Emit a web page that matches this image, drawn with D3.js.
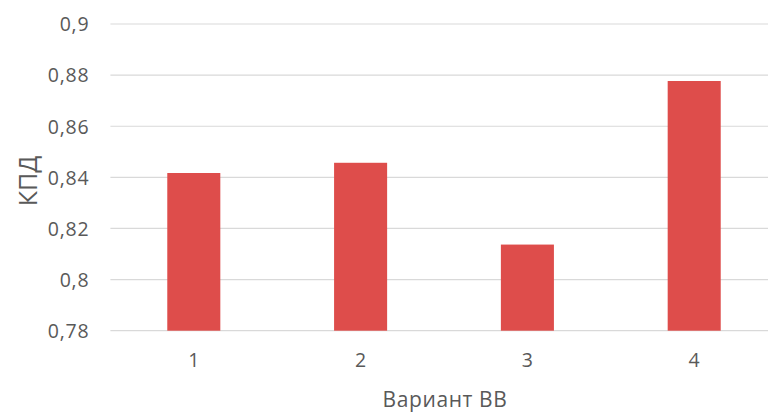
<!DOCTYPE html>
<html>
<head>
<meta charset="utf-8">
<script src="https://cdn.jsdelivr.net/npm/d3@7"></script>
<style>
  html, body { margin: 0; padding: 0; background: #fff; }
  svg { display: block; }
  text { font-family: "Open Sans", sans-serif; fill: #595959; }
</style>
</head>
<body>
<svg id="chart" width="768" height="414"></svg>
<script>
// Efficiency (КПД) by variant
const categories = ["1", "2", "3", "4"];
const values = [0.8417, 0.8457, 0.8137, 0.8777];
const yTicks = [0.78, 0.80, 0.82, 0.84, 0.86, 0.88, 0.90];
const xTitle = "Вариант ВВ";
const yTitle = "КПД";

const svg = d3.select("#chart");
const plotLeft = 110.4, plotRight = 777.6, plotTop = 24, plotBottom = 330.7;

const x = d3.scaleBand().domain(categories).range([plotLeft, plotRight]).paddingInner(0.682).paddingOuter(0.341);
const y = d3.scaleLinear().domain([0.78, 0.90]).range([plotBottom, plotTop]);

const fmt = v => d3.format("~g")(+v.toFixed(2)).replace(".", ",");

// gridlines
svg.append("g")
  .selectAll("line")
  .data(yTicks)
  .join("line")
  .attr("x1", plotLeft).attr("x2", plotRight)
  .attr("y1", d => y(d)).attr("y2", d => y(d))
  .attr("stroke", "#d9d9d9").attr("stroke-width", 1.2);

// y axis labels
const yAxis = svg.append("g")
  .attr("transform", `translate(${plotLeft},0)`)
  .call(d3.axisLeft(y).tickValues(yTicks).tickFormat(fmt).tickSize(0).tickPadding(21));
yAxis.select(".domain").remove();
yAxis.selectAll("text")
  .style("font-size", "19.5px").style("letter-spacing", "0.8px")
  .attr("fill", "#595959").attr("dy", "0.35em");

// bars
svg.append("g")
  .selectAll("rect")
  .data(values)
  .join("rect")
  .attr("x", (d, i) => x(categories[i]))
  .attr("width", x.bandwidth())
  .attr("y", d => y(d))
  .attr("height", d => y(0.78) - y(d))
  .attr("fill", "#de4d4b");

// x axis labels
const xAxis = svg.append("g")
  .attr("transform", `translate(0,${plotBottom})`)
  .call(d3.axisBottom(x).tickSize(0).tickPadding(22));
xAxis.select(".domain").remove();
xAxis.selectAll("text").style("font-size", "19.5px").attr("fill", "#595959");

// axis titles
svg.append("text")
  .attr("x", 445).attr("y", 407)
  .attr("text-anchor", "middle")
  .style("font-size", "21px").style("letter-spacing", "0.6px")
  .text(xTitle);

svg.append("text")
  .attr("transform", "translate(37,181) rotate(-90)")
  .attr("text-anchor", "middle")
  .style("font-size", "25px")
  .text(yTitle);
</script>
</body>
</html>
